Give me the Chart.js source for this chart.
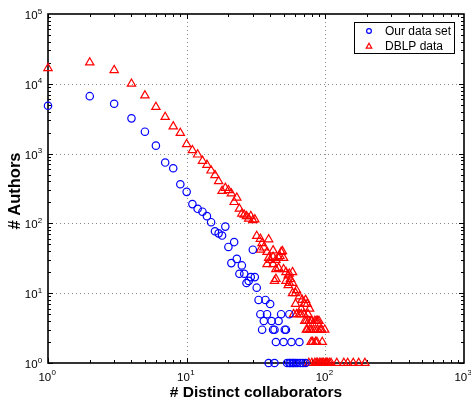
<!DOCTYPE html>
<html>
<head>
<meta charset="utf-8">
<script src="https://cdn.jsdelivr.net/npm/chart.js@4/dist/chart.umd.min.js"></script>
<style>
html,body{margin:0;padding:0;background:#fff;}
#c{display:block;}
</style>
</head>
<body>
<canvas id="c" width="471" height="400"></canvas>
<script>
// ---- data ----
const seriesLabels = ["Our data set", "DBLP data"];
const xTickValues = [1, 10, 100, 1000];
const yTickValues = [1, 10, 100, 1000, 10000, 100000];
const xTitle = "# Distinct collaborators";
const yTitle = "# Authors";

const ourX = [1,2,3,4,5,6,7,8,9,10,11,12,13,14,15,16,17,18,19,20,21,22,23,24,25,26,27,28,29,30,31,32,33,37,40,
  34,38,48,55, 36,41,46, 35,42,43,51,52, 44,50,57,65,
  39,43,53,55,56,58,59,61,63,66,69,72];
const ourY = [4850,6650,5180,3200,2060,1300,744,617,364,283,189,162,147,127,104,77,72,67,90,46,27,54,31,19,25,19,14,15,17,42,17,12,8,8,7,
  5,5,5,5, 4,4,4, 3,3,3,3,3, 2,2,2,2,
  1,1,1,1,1,1,1,1,1,1,1,1];

const dblpX = [1,2,3,4,5,6,7,8,9,10,11,12,13,14,15,16,17,18,19,20,21,22,23,24,25,26,27,28,29,30,31,
  32,34,35,36,34,39,38,42,49,46,44,40,42,38,46,50,52,55,58,44,43,52,55,58,54,56,54,48,50,39,42,44,47,
  58,62,61,65,68,72,71,74,77,61,67,
  59,62,65,67,70,75,
  71,73,76,79,80,84,86,88,90,
  73,74,77,79,82,85,88,92,94,99,
  79,81,85,87,95,
  76,80,84,86,88,91,93,95,97,100,102,104,107,110,121,136,145,159,174,193];
const dblpY = [16750,20150,15700,10000,6800,4650,3340,2450,1970,1360,1115,968,786,689,571,490,402,291,322,298,268,202,233,162,138,133,127,117,127,111,114,
  66,60,52,45,42,59,39,41,40,32,30,30,26,26,23,22,20,19,20,16,15,15,14,14,18,16,13,39,32,32,33,22,34,
  10,11,10,9,8,8,7,7,6,7,6,
  5,5,5,5,5,5,
  4,4,4,4,4,4,4,4,4,
  3,3,3,3,3,3,3,3,3,3,
  2,2,2,2,2,
  1,1,1,1,1,1,1,1,1,1,1,1,1,1,1,1,1,1,1,1];

const toPts = (xs, ys) => xs.map((x, i) => ({x: x, y: ys[i]}));

const FONT = "'Liberation Sans', Arial, Helvetica, sans-serif";

function drawPow(ctx, x, y, exp, mode) {
  const baseFont = "11.5px " + FONT, expFont = "8px " + FONT;
  ctx.font = baseFont; const wb = ctx.measureText("10").width;
  ctx.font = expFont; const we = ctx.measureText(String(exp)).width;
  let left;
  if (mode === "right") left = x - wb - we; else left = x - (wb + we) / 2;
  ctx.textAlign = "left"; ctx.textBaseline = "alphabetic";
  ctx.font = baseFont; ctx.fillText("10", left, y);
  ctx.font = expFont; ctx.fillText(String(exp), left + wb + 0.3, y - 5.5);
}

const framePlugin = {
  id: "frame",
  beforeDatasetsDraw(chart) {
    const {ctx, chartArea: a, scales: {x, y}} = chart;
    ctx.save();
    // dotted grid at decades
    ctx.strokeStyle = "#8a8a8a"; ctx.lineWidth = 1; ctx.setLineDash([1, 3]);
    xTickValues.forEach(v => { const px = Math.round(x.getPixelForValue(v)) + 0.5;
      if (px > a.left + 2 && px < a.right - 2) { ctx.beginPath(); ctx.moveTo(px, a.top); ctx.lineTo(px, a.bottom); ctx.stroke(); } });
    yTickValues.forEach(v => { const py = Math.round(y.getPixelForValue(v)) + 0.5;
      if (py > a.top + 2 && py < a.bottom - 2) { ctx.beginPath(); ctx.moveTo(a.left, py); ctx.lineTo(a.right, py); ctx.stroke(); } });
    ctx.setLineDash([]);
    // inward ticks on all four sides
    ctx.strokeStyle = "#000"; ctx.lineWidth = 1;
    for (let d = 1; d < 1000; d *= 10) for (let m = 1; m <= 9; m++) {
      const v = d * m; if (v > 1000) continue;
      const px = Math.round(x.getPixelForValue(v)) + 0.5; const L = m === 1 ? 5 : 3;
      ctx.beginPath(); ctx.moveTo(px, a.bottom); ctx.lineTo(px, a.bottom - L);
      ctx.moveTo(px, a.top); ctx.lineTo(px, a.top + L); ctx.stroke();
    }
    for (let d = 1; d < 100000; d *= 10) for (let m = 1; m <= 9; m++) {
      const v = d * m;
      const py = Math.round(y.getPixelForValue(v)) + 0.5; const L = m === 1 ? 5 : 3;
      ctx.beginPath(); ctx.moveTo(a.left, py); ctx.lineTo(a.left + L, py);
      ctx.moveTo(a.right, py); ctx.lineTo(a.right - L, py); ctx.stroke();
    }
    // box
    ctx.lineWidth = 1.6;
    ctx.strokeRect(a.left, a.top, a.right - a.left, a.bottom - a.top);
    // tick labels
    ctx.fillStyle = "#000";
    xTickValues.forEach(v => drawPow(ctx, x.getPixelForValue(v) - 1, a.bottom + 17.5, Math.round(Math.log10(v)), "center"));
    yTickValues.forEach(v => drawPow(ctx, a.left - 6, y.getPixelForValue(v) + 5, Math.round(Math.log10(v)), "right"));
    // axis titles
    ctx.textAlign = "center"; ctx.textBaseline = "alphabetic";
    ctx.font = "bold 15.5px " + FONT;
    ctx.fillText(xTitle, 256, 397);
    ctx.font = "bold 16.5px " + FONT;
    ctx.save(); ctx.translate(20, 191); ctx.rotate(-Math.PI / 2);
    ctx.fillText(yTitle, 0, 0); ctx.restore();
    ctx.restore();
  },
  afterDatasetsDraw(chart) {
    const {ctx} = chart;
    ctx.save();
    // legend box
    const bx = 354.5, by = 22.5, bw = 100, bh = 31;
    ctx.fillStyle = "#fff"; ctx.fillRect(bx, by, bw, bh);
    ctx.strokeStyle = "#000"; ctx.lineWidth = 1; ctx.strokeRect(bx, by, bw, bh);
    chart.data.datasets.forEach((ds, i) => {
      const cy = by + 8.5 + i * 15;
      ctx.strokeStyle = ds.borderColor; ctx.fillStyle = "rgba(0,0,0,0)"; ctx.lineWidth = 1.2;
      Chart.helpers.drawPoint(ctx, {pointStyle: ds.pointStyle, radius: i === 0 ? 2.4 : 3.2, borderWidth: 1.2, rotation: 0}, 369, cy + (i === 1 ? 0.5 : 0));
      ctx.fillStyle = "#000"; ctx.font = "12px " + FONT;
      ctx.textAlign = "left"; ctx.textBaseline = "middle";
      ctx.fillText(ds.label, 385, cy + 0.5);
    });
    ctx.restore();
  }
};

new Chart(document.getElementById("c"), {
  type: "scatter",
  data: {
    datasets: [
      {label: seriesLabels[0], data: toPts(ourX, ourY), pointStyle: "circle", pointRadius: 3.7,
       borderColor: "#0000ff", backgroundColor: "rgba(0,0,0,0)", borderWidth: 1.2, clip: false},
      {label: seriesLabels[1], data: toPts(dblpX, dblpY), pointStyle: "triangle", pointRadius: 4.8,
       borderColor: "#ff0000", backgroundColor: "rgba(0,0,0,0)", borderWidth: 1.2, clip: false}
    ]
  },
  options: {
    responsive: false, animation: false, devicePixelRatio: 1, events: [],
    layout: {padding: {left: 48, top: 14, right: 7, bottom: 37}},
    plugins: {legend: {display: false}, tooltip: {enabled: false}},
    scales: {
      x: {type: "logarithmic", min: 1, max: 1000, display: false},
      y: {type: "logarithmic", min: 1, max: 100000, display: false}
    }
  },
  plugins: [framePlugin]
});
</script>
</body>
</html>
